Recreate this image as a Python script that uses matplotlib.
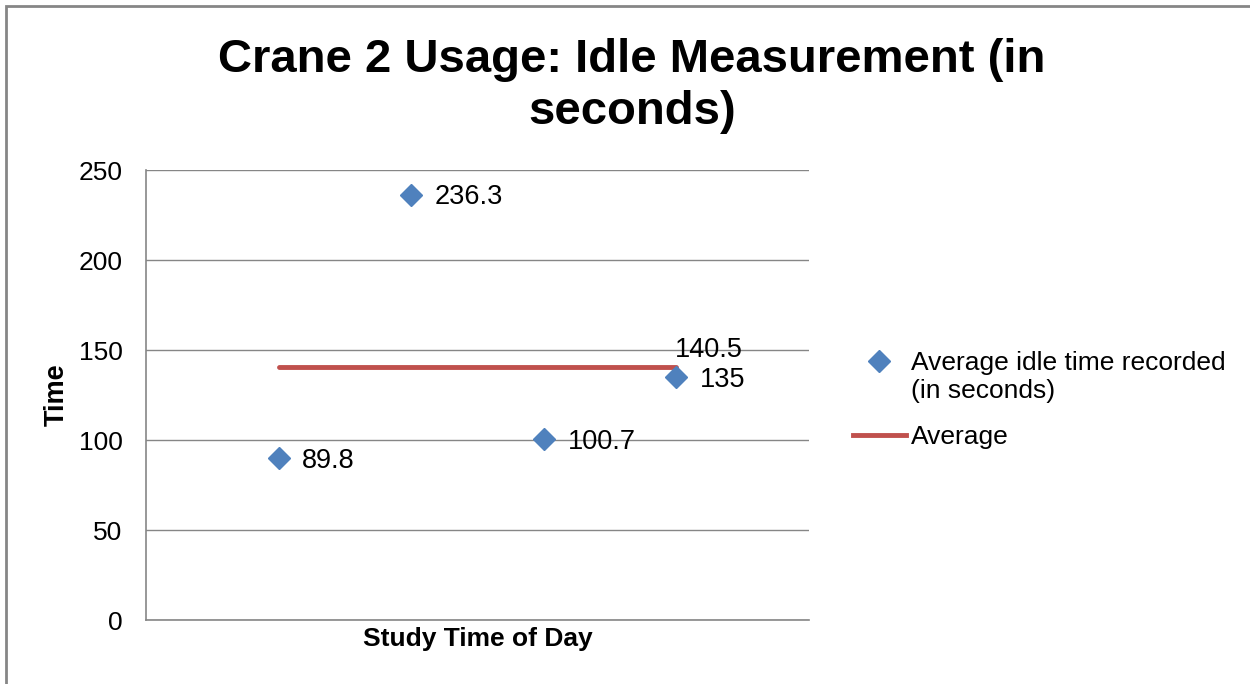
import matplotlib
matplotlib.use("Agg")
import matplotlib.pyplot as plt
from matplotlib.lines import Line2D
from matplotlib.patches import Rectangle
from matplotlib.legend_handler import HandlerLine2D

plt.rcParams.update({"font.family": ["Liberation Sans", "DejaVu Sans"]})

BLUE = "#4F81BD"
RED = "#C0504D"
GRID = "#868686"

# data
positions = [1, 2, 3, 4]
idle_times = [89.8, 236.3, 100.7, 135]
idle_labels = ["89.8", "236.3", "100.7", "135"]
average = [140.5, 140.5, 140.5, 140.5]


class TopLineHandler(HandlerLine2D):
    # put the marker beside the first line of a two-line label, like Excel
    def create_artists(self, legend, orig_handle, xdescent, ydescent,
                       width, height, fontsize, trans):
        arts = super().create_artists(legend, orig_handle, xdescent, ydescent,
                                      width, height, fontsize, trans)
        for a in arts:
            a.set_ydata([y + fontsize * 0.6 for y in a.get_ydata()])
        return arts


fig = plt.figure(figsize=(12.5, 6.84), dpi=100)
ax = fig.add_axes([146 / 1250, 64 / 684, (809 - 146) / 1250, (620 - 170) / 684])

ax.plot(positions, average, color=RED, lw=3.5, solid_capstyle="round", zorder=2)
ax.plot(positions, idle_times, ls="none", marker="D", ms=11, color=BLUE,
        markeredgecolor=BLUE, zorder=3)

for x, y, lab in zip(positions, idle_times, idle_labels):
    ax.annotate(lab, (x, y), xytext=(17, -2), textcoords="offset points",
                ha="left", va="center", fontsize=19.5)
ax.annotate("140.5", (positions[-1], average[-1]), xytext=(-1, 3),
            textcoords="offset points", ha="left", va="bottom", fontsize=19.5)

ax.set_xlim(0, 5)
ax.set_ylim(0, 250)
ax.set_yticks(range(0, 251, 50))
ax.set_xticks([])
ax.tick_params(axis="y", length=0, labelsize=19, pad=17)
ax.yaxis.grid(True, color=GRID, lw=1)
ax.set_axisbelow(True)
for s in ["top", "right"]:
    ax.spines[s].set_visible(False)
for s in ["left", "bottom"]:
    ax.spines[s].set_color(GRID)
    ax.spines[s].set_linewidth(1.2)

ax.set_ylabel("Time", fontsize=19.5, fontweight="bold", labelpad=6)
ax.set_xlabel("Study Time of Day", fontsize=19, fontweight="bold", labelpad=5)

fig.text(632 / 1250, 1 - 86 / 684, "Crane 2 Usage: Idle Measurement (in\nseconds)",
         ha="center", va="center", fontsize=34, fontweight="bold",
         linespacing=1.25)

handles = [
    Line2D([], [], ls="none", marker="D", ms=11, color=BLUE),
    Line2D([], [], color=RED, lw=3.5),
]
fig.legend(handles, ["Average idle time recorded\n(in seconds)", "Average"],
           loc="upper left", bbox_to_anchor=(829 / 1250, 1 - 327 / 684),
           frameon=False, fontsize=19, handlelength=2.0, handletextpad=0.2,
           labelspacing=0.85,
           handler_map={handles[0]: TopLineHandler()})

fig.patches.append(Rectangle((6 / 1250, -0.1), 1.2, (1 - 6 / 684) + 0.1,
                             transform=fig.transFigure, fill=False,
                             edgecolor=GRID, lw=2))

fig.savefig("out.png", dpi=100, facecolor="white")
